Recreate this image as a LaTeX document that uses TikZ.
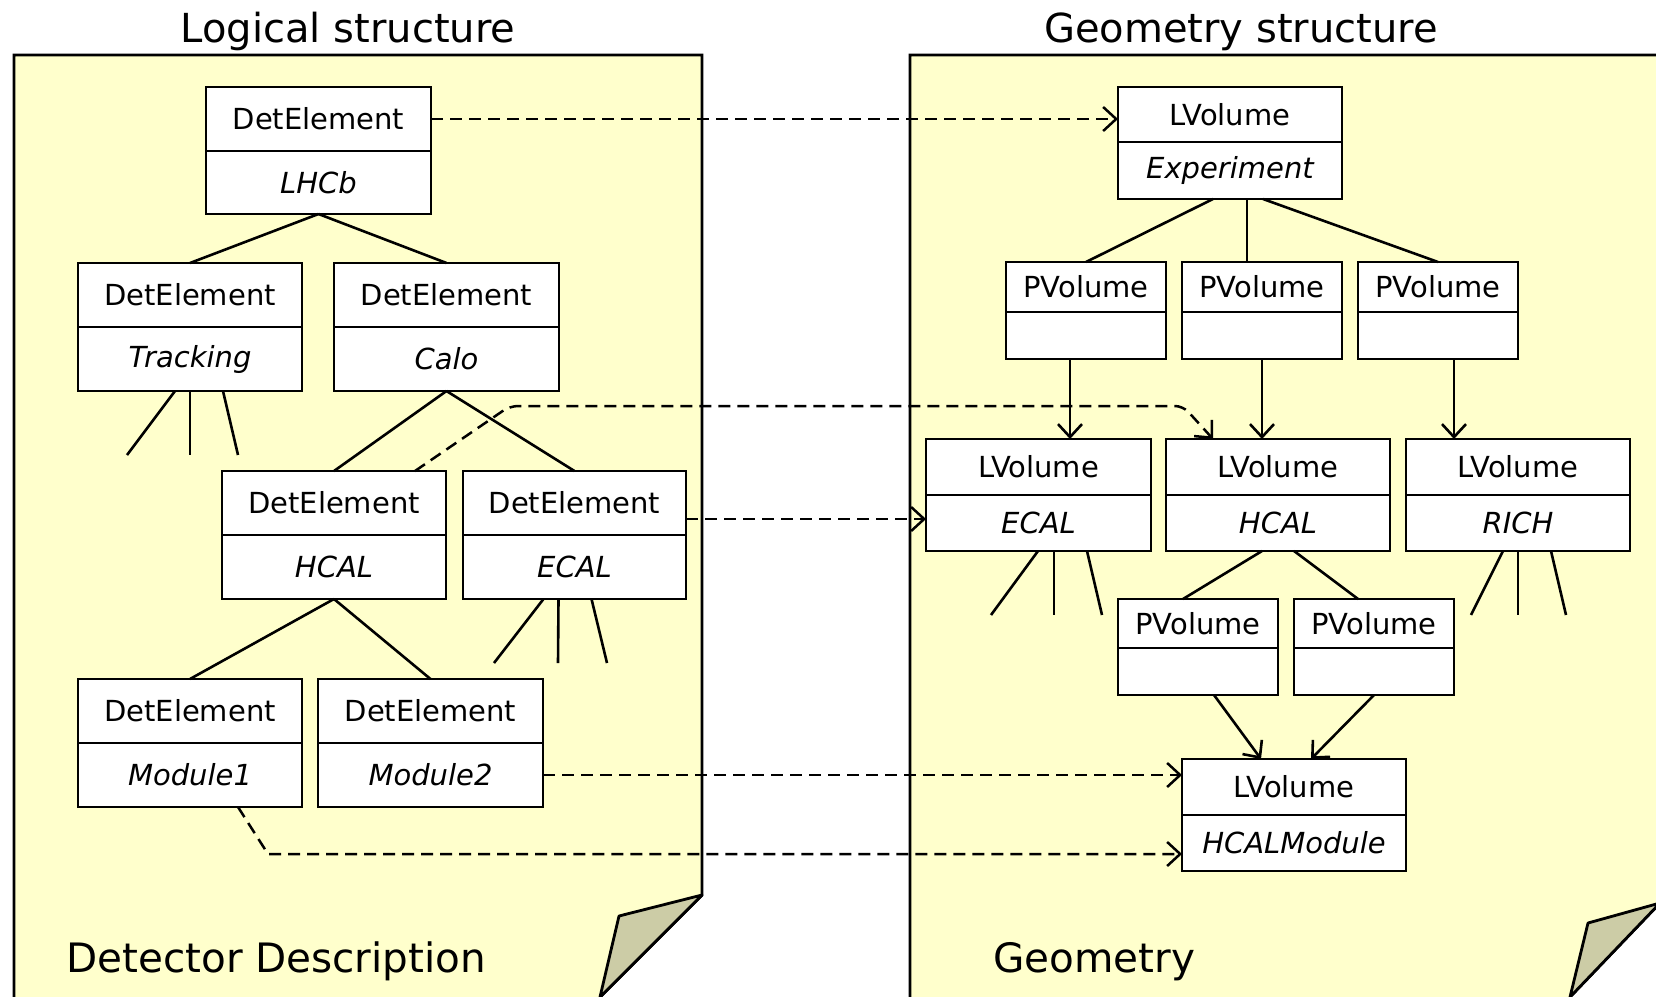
\documentclass[tikz,border=0pt]{standalone}
\usepackage{fontspec}
\setmainfont{DejaVu Sans}
\usetikzlibrary{arrows.meta}
\definecolor{pagey}{HTML}{FFFFCC}
\definecolor{foldc}{HTML}{CCCCA6}

\newcommand{\umlbox}[8]{%
  \node[hdr, minimum width=#4pt, minimum height=#5pt, anchor=north west] (#1) at (#2,#3) {#7};
  \node[bdy, minimum width=#4pt, minimum height=#6pt, anchor=north] (#1x) at (#1.south) {#8};
}

\begin{document}
\begin{tikzpicture}[x=1pt,y=-1pt,
  part/.style={draw=black, line width=2.8pt, fill=white, inner sep=0pt, outer sep=0pt},
  hdr/.style={part, font=\fontsize{29}{34}\selectfont},
  bdy/.style={part, font=\fontsize{29}{34}\selectfont\itshape},
  link/.style={line width=2.6pt},
  arr/.style={link, -{Straight Barb[length=13pt,width=24pt]}},
  dlink/.style={line width=2.5pt, dash pattern=on 12pt off 7pt},
  darr/.style={dlink, -{Straight Barb[length=13pt,width=24pt]}},
  pagestyle/.style={fill=pagey, draw=black, line width=2.8pt, line join=miter},
  foldstyle/.style={fill=foldc, draw=black, line width=2.8pt, line join=round},
  ttl/.style={font=\fontsize{40}{48}\selectfont, anchor=base, inner sep=0pt},
  pagelabel/.style={font=\fontsize{40.5}{48}\selectfont, anchor=base west, inner sep=0pt}
]
\useasboundingbox[fill=white] (0,0) rectangle (1656,996);

% pages
\begin{scope}
  \clip (0,0) rectangle (1656,996);
  \path[pagestyle] (14,1010) -- (14,55) -- (702,55) -- (702,895) -- (600,997);
  \path[foldstyle] (702,895) -- (619,916) -- (600,997) -- cycle;
  \path[pagestyle] (910,1010) -- (910,55) -- (1660,55) -- (1660,903) -- (1570,997);
  \path[foldstyle] (1660,903) -- (1588,923) -- (1570,997) -- cycle;
\end{scope}

% titles
\node[ttl] (tleft) at (348,42) {Logical structure};
\node[ttl] (tright) at (1241,42) {Geometry structure};
\node[pagelabel] (ldd) at (66,972) {Detector Description};
\node[pagelabel] (lgeo) at (993,972) {Geometry};

% left boxes
\umlbox{lhcb}{206}{87}{225}{64}{63}{DetElement}{LHCb}
\umlbox{trk}{78}{263}{224}{64}{64}{DetElement}{Tracking}
\umlbox{calo}{334}{263}{225}{64}{64}{DetElement}{Calo}
\umlbox{hcal}{222}{471}{224}{64}{64}{DetElement}{HCAL}
\umlbox{ecal}{463}{471}{223}{64}{64}{DetElement}{ECAL}
\umlbox{modA}{78}{679}{224}{64}{64}{DetElement}{Module1}
\umlbox{modB}{318}{679}{225}{64}{64}{DetElement}{Module2}

% right boxes
\umlbox{exp}{1118}{87}{224}{55}{57}{LVolume}{Experiment}
\umlbox{pvA}{1006}{262}{160}{50}{47}{PVolume}{}
\umlbox{pvB}{1182}{262}{160}{50}{47}{PVolume}{}
\umlbox{pvC}{1358}{262}{160}{50}{47}{PVolume}{}
\umlbox{lvecal}{926}{439}{225}{56}{56}{LVolume}{ECAL}
\umlbox{lvhcal}{1166}{439}{224}{56}{56}{LVolume}{HCAL}
\umlbox{rich}{1406}{439}{224}{56}{56}{LVolume}{RICH}
\umlbox{pvD}{1118}{599}{160}{49}{47}{PVolume}{}
\umlbox{pvE}{1294}{599}{160}{49}{47}{PVolume}{}
\umlbox{hmod}{1182}{759}{224}{56}{56}{LVolume}{HCALModule}

% left tree
\draw[link] (lhcbx.south) -- (trk.north);
\draw[link] (lhcbx.south) -- (calo.north);
\draw[link] (calox.south) -- (hcal.north);
\draw[link] (calox.south) -- (ecal.north);
\draw[link] (hcalx.south) -- (modA.north);
\draw[link] (hcalx.south) -- (modB.north);

% stubs
\coordinate (trkA) at (127,455);
\coordinate (trkB) at (190,455);
\coordinate (trkC) at (238,455);
\draw[link] ([xshift=-15pt]trkx.south) -- (trkA);
\draw[link] (trkx.south) -- (trkB);
\draw[link] ([xshift=33pt]trkx.south) -- (trkC);
\coordinate (ecA) at (494,663);
\coordinate (ecB) at (558,663);
\coordinate (ecC) at (607,663);
\draw[link] ([xshift=-31pt]ecalx.south) -- (ecA);
\draw[link] ([xshift=-16pt]ecalx.south) -- (ecB);
\draw[link] ([xshift=17pt]ecalx.south) -- (ecC);
\coordinate (leA) at (991,615);
\coordinate (leB) at (1054,615);
\coordinate (leC) at (1102,615);
\draw[link] ([xshift=-0.5pt]lvecalx.south) -- (leA);
\draw[link] ([xshift=15.5pt]lvecalx.south) -- (leB);
\draw[link] ([xshift=48.5pt]lvecalx.south) -- (leC);
\coordinate (riA) at (1471,615);
\coordinate (riB) at (1518,615);
\coordinate (riC) at (1566,615);
\draw[link] ([xshift=-15pt]richx.south) -- (riA);
\draw[link] (richx.south) -- (riB);
\draw[link] ([xshift=33pt]richx.south) -- (riC);

% right tree
\draw[link] ([xshift=-17pt]expx.south) -- (pvA.north);
\draw[link] ([xshift=17pt]expx.south) -- ([xshift=17pt]expx.south |- pvB.north);
\draw[link] ([xshift=33pt]expx.south) -- (pvC.north);
\draw[arr] ([xshift=-16pt]pvAx.south) -- ([xshift=-16pt]pvAx.south |- lvecal.north);
\draw[arr] (pvBx.south) -- (pvBx.south |- lvhcal.north);
\draw[arr] ([xshift=16pt]pvCx.south) -- ([xshift=16pt]pvCx.south |- rich.north);
\draw[link] ([xshift=-16pt]lvhcalx.south) -- ([xshift=-15pt]pvD.north);
\draw[link] ([xshift=16pt]lvhcalx.south) -- ([xshift=-16pt]pvE.north);
\draw[arr] ([xshift=16pt]pvDx.south) -- ([xshift=-33pt]hmod.north);
\draw[arr] (pvEx.south) -- ([xshift=17pt]hmod.north);

% dashed mappings
\draw[darr] (lhcb.east) -- (lhcb.east -| exp.west);
\coordinate (bendA) at (510,406);
\coordinate (bendB) at (1183,406);
\draw[darr, rounded corners=8pt] ([xshift=81pt]hcal.north) -- (bendA) -- (bendB) -- ([xshift=-65pt]lvhcal.north);
\draw[darr] ([yshift=16pt]ecalx.north east) -- ([yshift=16pt]ecalx.north east -| lvecal.west);
\draw[darr] (modBx.east) -- (modBx.east -| hmod.west);
\coordinate (bendC) at (268,854);
\draw[darr] ([xshift=48pt]modAx.south) -- (bendC) -- (bendC -| hmodx.west);
\end{tikzpicture}
\end{document}
